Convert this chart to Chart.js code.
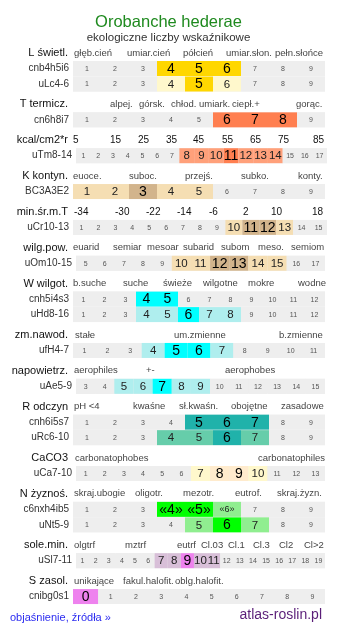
<!DOCTYPE html>
<html lang="pl">
<head>
<meta charset="utf-8">
<title>Orobanche hederae – ekologiczne liczby wskaźnikowe</title>
<script src="https://cdn.jsdelivr.net/npm/chart.js@4.4.1/dist/chart.umd.min.js"></script>
<style>
    body { margin: 0; background: #fff; font-family: "Liberation Sans", Arial, sans-serif; }
    #karta { position: relative; width: 337px; height: 634px; overflow: hidden; }
    #wykres { position: absolute; left: 0; top: 0; }
    .tytul { position: absolute; left: 0; width: 337px; top: 13px; text-align: center;
             font-size: 16.5px; line-height: 1; color: #1f8a1f; }
    .podtytul { position: absolute; left: 0; width: 337px; top: 32px; text-align: center;
                font-size: 11.5px; line-height: 1; color: #333; }
    .objasnienie { position: absolute; left: 10px; top: 612px; font-size: 11px; line-height: 1; color: #2b2bf0; }
    .atlas { position: absolute; right: 15px; top: 607px; font-size: 14px; line-height: 1; color: #5a1e78; }
</style>
</head>
<body>
<div id="karta">
    <canvas id="wykres" width="337" height="634"></canvas>
    <div class="tytul">Orobanche hederae</div>
    <div class="podtytul">ekologiczne liczby wskaźnikowe</div>
    <div class="objasnienie">objaśnienie, źródła »</div>
    <div class="atlas">atlas-roslin.pl</div>
</div>
<script>
// ====================================================================
// Liczby wskaźnikowe - paski skal rysowane jako słupki Chart.js
// ====================================================================

// Sekcje (nagłówek po lewej) i liczba wierszy w każdej
const sekcje = ['L świetl.', 'T termicz.', 'kcal/cm2*r', 'K kontyn.', 'min.śr.m.T', 'wilg.pow.',
    'W wilgot.', 'zm.nawod.', 'napowietrz.', 'R odczyn', 'CaCO3', 'N żyznoś.', 'sole.min.', 'S zasol.'];
const wierszeSekcji = [2, 1, 1, 1, 1, 1, 2, 1, 1, 2, 1, 2, 1, 1];

// Opisy nad skalą w każdej sekcji
const opisySkali = [
    ['głęb.cień', 'umiar.cień', 'półcień', 'umiar.słon.', 'pełn.słońce'],
    ['alpej.', 'górsk.', 'chłod.', 'umiark.', 'ciepł.+', 'gorąc.'],
    ['5', '15', '25', '35', '45', '55', '65', '75', '85'],
    ['euoce.', 'suboc.', 'przejś.', 'subko.', 'konty.'],
    ['-34', '-30', '-22', '-14', '-6', '2', '10', '18'],
    ['euarid', 'semiar', 'mesoar', 'subarid', 'subom', 'meso.', 'semiom'],
    ['b.suche', 'suche', 'świeże', 'wilgotne', 'mokre', 'wodne'],
    ['stałe', 'um.zmienne', 'b.zmienne'],
    ['aerophiles', '+-', 'aerophobes'],
    ['pH <4', 'kwaśne', 'sł.kwaśn.', 'obojętne', 'zasadowe'],
    ['carbonatophobes', 'carbonatophiles'],
    ['skraj.ubogie', 'oligotr.', 'mezotr.', 'eutrof.', 'skraj.żyzn.'],
    ['olgtrf', 'mztrf', 'eutrf', 'Cl.03', 'Cl.1', 'Cl.3', 'Cl2', 'Cl>2'],
    ['unikające', 'fakul.halofit.', 'oblg.halofit.']
];

// Wiersze: kod, zakres skali, wartości mocne i słabe
const kody = ['cnb4h5i6', 'uLc4-6', 'cn6h8i7', 'uTm8-14', 'BC3A3E2', 'uCr10-13', 'uOm10-15',
    'cnh5i4s3', 'uHd8-16', 'ufH4-7', 'uAe5-9', 'cnh6i5s7', 'uRc6-10', 'uCa7-10',
    'c6nxh4ib5', 'uNt5-9', 'uSl7-11', 'cnibg0s1'];
const skalaOd = [1, 1, 1, 1, 1, 1, 5, 1, 1, 1, 3, 1, 1, 1, 1, 1, 1, 0];
const skalaDo = [9, 9, 9, 17, 9, 15, 17, 12, 12, 11, 15, 9, 9, 13, 9, 9, 19, 9];
const mocne = [[4, 5, 6], [5], [6, 7, 8], [11], [3], [11, 12], [12, 13], [4, 5], [6], [5, 6], [7],
    [5, 6, 7], [6], [8, 9], [4, 5], [6], [9], [0]];
const slabe = [[], [4, 6], [], [8, 9, 10, 12, 13, 14], [1, 2, 4, 5], [10, 13], [10, 11, 14, 15], [],
    [4, 5, 7, 8], [4, 7], [5, 6, 8, 9], [], [4, 5, 7], [7, 10], [6], [5, 7], [7, 8, 10, 11], []];
// wiersze z wartościami w cudzysłowie «»
const wierszeCytowane = [14];

// ---- wygląd ----
const kolorMocny = ['#ffd700', '#ff7f50', '#ff7f50', '#d2b48c', '#d2b48c', '#d2b48c', '#00ffff',
    '#00ffff', '#00ffff', '#20b2aa', '#ffebcd', '#00ff00', '#ee82ee', '#ee82ee'];
const kolorSlaby = ['#fff8cc', '#ffa07a', '#ffa07a', '#f5deb3', '#f5deb3', '#f5deb3', '#afeeee',
    '#afeeee', '#afeeee', '#66cdaa', '#fff8cc', '#90ee90', '#d8bfd8', '#d8bfd8'];
const KOLOR_TLA = '#eeeeee';

// położenie opisów nad skalą (oś x)
const opisyX = [
    [74, 127, 183, 226, 275],
    [110, 139, 171, 199, 232, 296],
    [73, 110, 138, 166, 193, 222, 250, 278, 313],
    [73, 129, 185, 241, 298],
    [74, 115, 146, 177, 209, 243, 271, 312],
    [73, 113, 147, 183, 221, 258, 291],
    [73, 123, 163, 203, 248, 298],
    [75, 174, 279],
    [74, 146, 225],
    [74, 133, 179, 231, 281],
    [75, 258],
    [74, 135, 183, 235, 277],
    [74, 125, 177, 201, 228, 253, 279, 304],
    [74, 123, 175]
];
// lewy i prawy brzeg paska każdego wiersza
const torLewy = [73, 73, 73, 76, 73, 73, 76, 73, 73, 73, 76, 73, 73, 76, 73, 73, 76, 73];
const torPrawy = [325, 325, 325, 327, 325, 327, 325, 325, 325, 325, 325, 325, 325, 325, 325, 325, 325, 325];

const PIERWSZY_WIERSZ = 61;   // górna krawędź pierwszego paska
const KROK = 15.5;            // odstęp wierszy w sekcji
const ODSTEP = 20.35;         // miejsce na nagłówek kolejnej sekcji
const GRUBOSC = 15;           // wysokość paska
const FONT = '"Liberation Sans", Arial, sans-serif';

// Środki wierszy na osi y i numer sekcji każdego wiersza
const srodkiWierszy = [];
const sekcjaWiersza = [];
(function () {
    let gora = PIERWSZY_WIERSZ;
    wierszeSekcji.forEach((n, s) => {
        for (let k = 0; k < n; k++) {
            srodkiWierszy.push(gora + GRUBOSC / 2);
            sekcjaWiersza.push(s);
            gora += KROK;
        }
        gora += ODSTEP;
    });
})();

// Tło pasków
const tory = kody.map((kod, r) => ({ x: [torLewy[r], torPrawy[r]], y: srodkiWierszy[r] }));

// Komórki skali
const komorki = [];
kody.forEach((kod, r) => {
    const n = skalaDo[r] - skalaOd[r] + 1;
    const w = (torPrawy[r] - torLewy[r]) / n;
    for (let i = 0; i < n; i++) {
        const v = skalaOd[r] + i;
        const poziom = mocne[r].includes(v) ? 2 : (slabe[r].includes(v) ? 1 : 0);
        komorki.push({ x: [torLewy[r] + i * w, torLewy[r] + (i + 1) * w], y: srodkiWierszy[r], v, poziom, r });
    }
});

function kolorKomorki(k) {
    if (!k) return KOLOR_TLA;
    const s = sekcjaWiersza[k.r];
    if (k.poziom === 2) return kolorMocny[s];
    if (k.poziom === 1) return kolorSlaby[s];
    return KOLOR_TLA;
}

// Napisy: nagłówki, opisy skal, kody wierszy i liczby w komórkach
const napisy = {
    id: 'napisy',
    afterDatasetsDraw(chart) {
        const { ctx, scales: { x, y } } = chart;
        ctx.save();
        ctx.textBaseline = 'middle';

        // nagłówki sekcji i opisy nad skalą
        let r = 0;
        sekcje.forEach((nazwa, s) => {
            const yn = y.getPixelForValue(srodkiWierszy[r] - GRUBOSC / 2 - 8);
            ctx.font = '11px ' + FONT;
            ctx.fillStyle = '#111';
            ctx.textAlign = 'right';
            ctx.fillText(nazwa, x.getPixelForValue(68), yn);

            const liczbowe = s === 2 || s === 4;
            ctx.font = (liczbowe ? '10px ' : '9.5px ') + FONT;
            ctx.fillStyle = liczbowe ? '#111' : '#444';
            ctx.textAlign = 'left';
            opisySkali[s].forEach((t, j) => ctx.fillText(t, x.getPixelForValue(opisyX[s][j]), yn));
            r += wierszeSekcji[s];
        });

        // kody wierszy
        ctx.font = '10px ' + FONT;
        ctx.fillStyle = '#333';
        ctx.textAlign = 'right';
        kody.forEach((kod, i) => {
            ctx.fillText(kod, x.getPixelForValue(torLewy[i] - 4), y.getPixelForValue(srodkiWierszy[i]));
        });

        // liczby w komórkach
        ctx.textAlign = 'center';
        const meta = chart.getDatasetMeta(1);
        meta.data.forEach((bar, i) => {
            const k = komorki[i];
            let tekst = String(k.v);
            if (wierszeCytowane.includes(k.r) && k.poziom > 0) tekst = '«' + tekst + '»';
            if (k.poziom === 2) {
                ctx.font = '14px ' + FONT;
                ctx.fillStyle = '#000';
            } else if (k.poziom === 1) {
                ctx.font = (wierszeCytowane.includes(k.r) ? '9px ' : '11.5px ') + FONT;
                ctx.fillStyle = '#222';
            } else {
                ctx.font = '7px ' + FONT;
                ctx.fillStyle = '#555';
            }
            ctx.fillText(tekst, (bar.x + bar.base) / 2, bar.y + 0.5);
        });
        ctx.restore();
    }
};

const wykres = new Chart(document.getElementById('wykres').getContext('2d'), {
    type: 'bar',
    data: {
        datasets: [
            {
                label: 'tło',
                data: tory,
                order: 2,
                backgroundColor: KOLOR_TLA,
                barThickness: GRUBOSC,
                grouped: false,
                inflateAmount: 0,
                borderWidth: 0
            },
            {
                label: 'komórki',
                data: komorki,
                order: 1,
                backgroundColor: (c) => kolorKomorki(c.raw),
                barThickness: GRUBOSC,
                grouped: false,
                inflateAmount: 0,
                borderWidth: 0
            }
        ]
    },
    options: {
        indexAxis: 'y',
        responsive: false,
        animation: false,
        events: [],
        devicePixelRatio: 1,
        layout: { padding: 0 },
        plugins: {
            legend: { display: false },
            tooltip: { enabled: false },
            title: { display: false }
        },
        scales: {
            x: { type: 'linear', min: 0, max: 337, display: false },
            y: { type: 'linear', min: 0, max: 634, reverse: true, offset: false, display: false }
        }
    },
    plugins: [napisy]
});
</script>
</body>
</html>
